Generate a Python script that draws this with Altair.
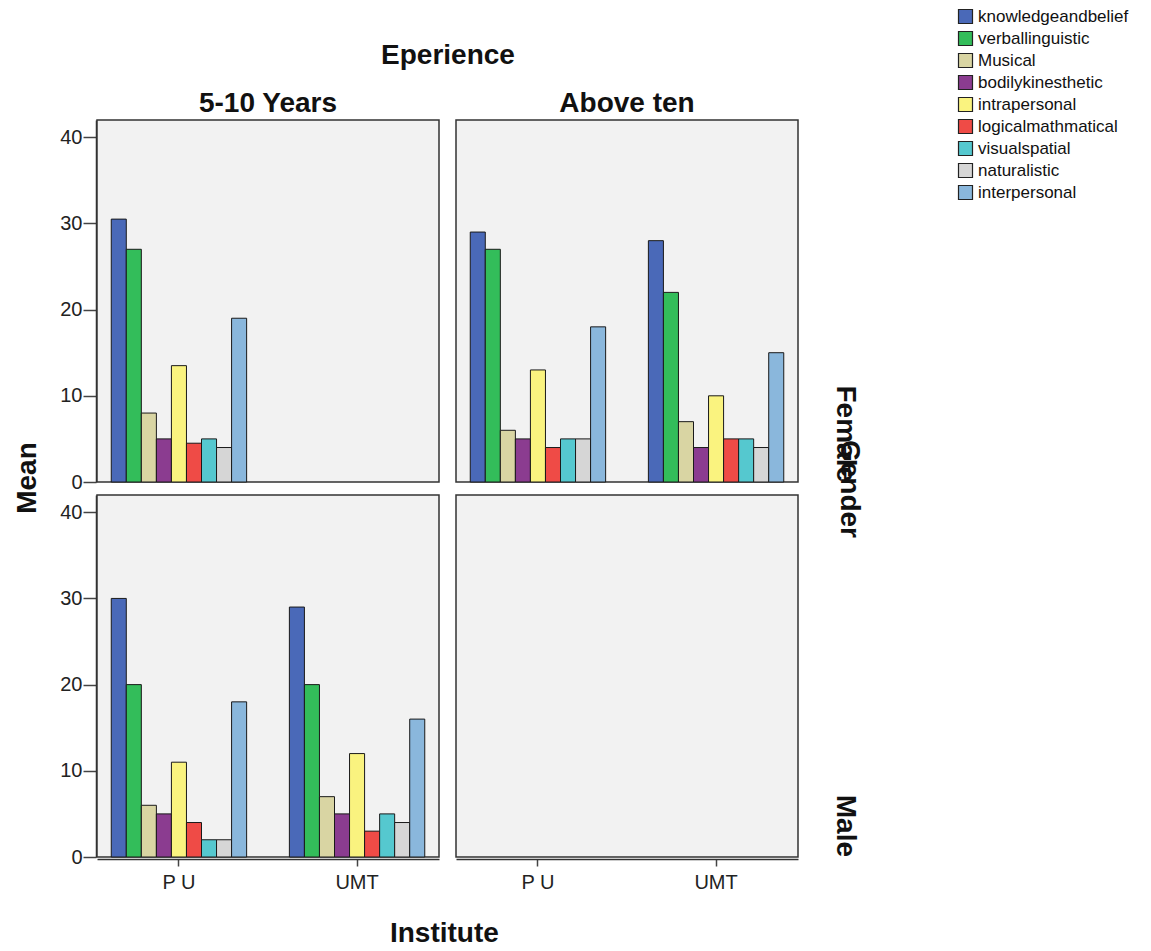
import altair as alt
import pandas as pd

intelligences = ["knowledgeandbelief", "verballinguistic", "Musical", "bodilykinesthetic",
                 "intrapersonal", "logicalmathmatical", "visualspatial", "naturalistic", "interpersonal"]
colors = ["#4a69b8", "#33bd5a", "#d9d5a3", "#8b3c90", "#faf37f", "#ef4b46", "#55c8cf", "#d6d6d6", "#8ab7dc"]
genders = ["Female", "Male"]
experiences = ["5-10 Years", "Above ten"]
institutes = ["P U", "UMT"]

female_510_pu = [30.5, 27, 8, 5, 13.5, 4.5, 5, 4, 19]
female_510_umt = [0, 0, 0, 0, 0, 0, 0, 0, 0]
female_above_pu = [29, 27, 6, 5, 13, 4, 5, 5, 18]
female_above_umt = [28, 22, 7, 4, 10, 5, 5, 4, 15]
male_510_pu = [30, 20, 6, 5, 11, 4, 2, 2, 18]
male_510_umt = [29, 20, 7, 5, 12, 3, 5, 4, 16]
male_above_pu = [0, 0, 0, 0, 0, 0, 0, 0, 0]
male_above_umt = [0, 0, 0, 0, 0, 0, 0, 0, 0]

groups = [
    ("Female", "5-10 Years", "P U", female_510_pu),
    ("Female", "5-10 Years", "UMT", female_510_umt),
    ("Female", "Above ten", "P U", female_above_pu),
    ("Female", "Above ten", "UMT", female_above_umt),
    ("Male", "5-10 Years", "P U", male_510_pu),
    ("Male", "5-10 Years", "UMT", male_510_umt),
    ("Male", "Above ten", "P U", male_above_pu),
    ("Male", "Above ten", "UMT", male_above_umt),
]
rows = []
for g, e, inst, vals in groups:
    for k, v in zip(intelligences, vals):
        rows.append({"Gender": g, "Eperience": e, "Institute": inst, "Intelligence": k, "Mean": v})
df = pd.DataFrame(rows)

FONT = "Liberation Sans"

base = alt.Chart(df).mark_bar(stroke="#1a1a1a", strokeWidth=1).encode(
    x=alt.X("Institute:N", sort=institutes,
            scale=alt.Scale(domain=institutes, paddingInner=0.24, paddingOuter=0.08),
            axis=alt.Axis(title=None, labelAngle=0, tickSize=7, labelPadding=6)),
    xOffset=alt.XOffset("Intelligence:N", sort=intelligences,
                        scale=alt.Scale(domain=intelligences, paddingInner=0, paddingOuter=0)),
    y=alt.Y("Mean:Q", scale=alt.Scale(domain=[0, 42], nice=False),
            axis=alt.Axis(title=None, values=[0, 10, 20, 30, 40], tickSize=13,
                          labelPadding=1)),
    color=alt.Color("Intelligence:N", sort=intelligences,
                    scale=alt.Scale(domain=intelligences, range=colors),
                    legend=alt.Legend(title=None, orient="none", legendX=860, legendY=-112,
                                      symbolType="square", symbolSize=196,
                                      symbolStrokeColor="#222", symbolStrokeWidth=1.2,
                                      labelFont=FONT, labelFontSize=17, labelColor="#111",
                                      rowPadding=3, labelOffset=4, labelLimit=300)),
    opacity=alt.condition("datum.Mean > 0", alt.value(1), alt.value(0)),
).properties(width=342, height=362)

facet = base.facet(
    row=alt.Row("Gender:N", sort=genders,
                header=alt.Header(title="Gender", labelOrient="right", titleOrient="right",
                                  labelAngle=90, titleAngle=90, labelAnchor="end",
                                  labelFontSize=28, labelFontWeight="bold", titleFontSize=28,
                                  titleFontWeight="bold", labelFont=FONT, titleFont=FONT,
                                  labelColor="#111", titleColor="#111",
                                  labelPadding=32, titlePadding=-34)),
    column=alt.Column("Eperience:N", sort=experiences,
                      header=alt.Header(title="Eperience", labelFontSize=28, labelFontWeight="bold",
                                        titleFontSize=28, titleFontWeight="bold",
                                        labelFont=FONT, titleFont=FONT, labelPadding=1,
                                        labelColor="#111", titleColor="#111",
                                        titlePadding=10)),
    spacing={"row": 10, "column": 15},
    title=alt.TitleParams("Institute", orient="bottom", anchor="middle", fontSize=28,
                          fontWeight="bold", font=FONT, color="#111", offset=28, dx=-17),
)

chart = alt.hconcat(
    facet,
    title=alt.TitleParams("Mean", orient="left", anchor="middle", fontSize=28,
                          fontWeight="bold", font=FONT, color="#111", offset=18),
    padding={"left": 5, "top": 0, "right": 0, "bottom": 0},
).configure_view(
    fill="#f2f2f2", stroke="#333333", strokeWidth=1.5
).configure_axis(
    labelFont=FONT, labelFontSize=20, labelColor="#222", domainColor="#333", domainWidth=1.5,
    tickColor="#444", tickWidth=1.5, grid=False
)

chart.save("out.html", embed_options={"renderer": "svg", "actions": False})
